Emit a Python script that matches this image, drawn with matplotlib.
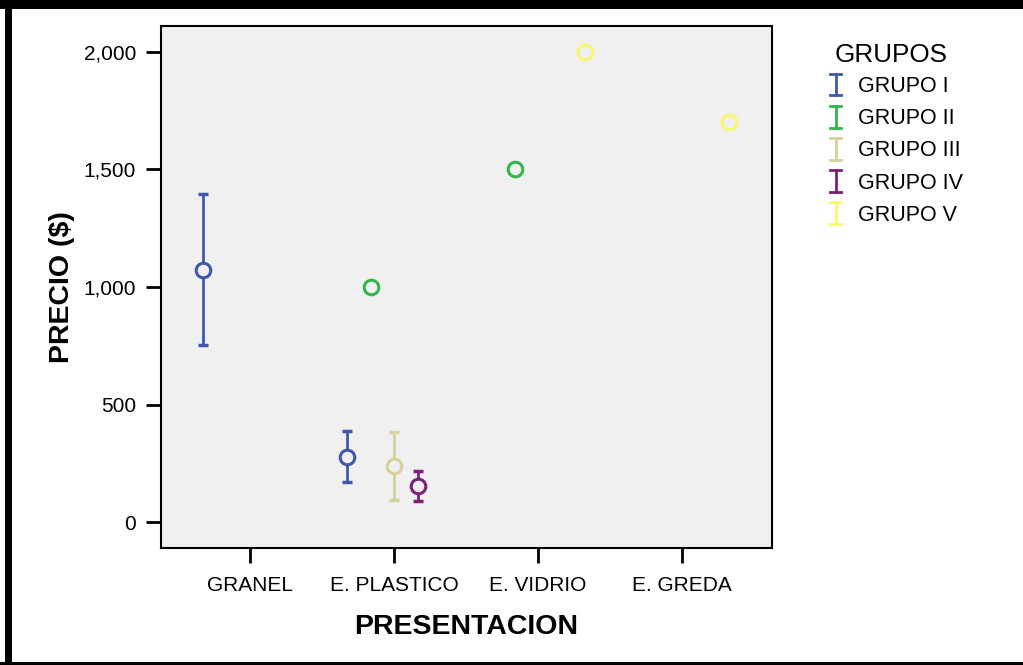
import numpy as np
import matplotlib.pyplot as plt
from matplotlib.lines import Line2D
from matplotlib.legend_handler import HandlerBase
from matplotlib.patches import Rectangle

plt.rcParams['font.family'] = ['Liberation Sans', 'DejaVu Sans']

nan = np.nan

# Precio medio e intervalo por presentacion
presentaciones = ["GRANEL", "E. PLASTICO", "E. VIDRIO", "E. GREDA"]
grupos = ["GRUPO I", "GRUPO II", "GRUPO III", "GRUPO IV", "GRUPO V"]
colores = ["#3e58ac", "#33b54a", "#d6d09c", "#7b1f78", "#f9f76e"]

media_g1 = [1072, 278, nan, nan]
inf_g1 = [752, 172, nan, nan]
sup_g1 = [1395, 388, nan, nan]

media_g2 = [nan, 1000, 1500, nan]
inf_g2 = [nan, nan, nan, nan]
sup_g2 = [nan, nan, nan, nan]

media_g3 = [nan, 240, nan, nan]
inf_g3 = [nan, 96, nan, nan]
sup_g3 = [nan, 384, nan, nan]

media_g4 = [nan, 153, nan, nan]
inf_g4 = [nan, 89, nan, nan]
sup_g4 = [nan, 218, nan, nan]

media_g5 = [nan, nan, 2000, 1700]
inf_g5 = [nan, nan, nan, nan]
sup_g5 = [nan, nan, nan, nan]

medias = [media_g1, media_g2, media_g3, media_g4, media_g5]
inferiores = [inf_g1, inf_g2, inf_g3, inf_g4, inf_g5]
superiores = [sup_g1, sup_g2, sup_g3, sup_g4, sup_g5]


class HandlerBarra(HandlerBase):
    # barra de error vertical con topes, sin marcador
    def create_artists(self, legend, orig_handle, xdescent, ydescent,
                       width, height, fontsize, trans):
        c = orig_handle.get_color()
        cap = 4.0
        cx = cap - xdescent
        y0 = -ydescent - 0.22 * height
        y1 = -ydescent + 1.22 * height
        lw = 2.0
        arts = [
            Line2D([cx, cx], [y0, y1], color=c, lw=lw),
            Line2D([cx - cap, cx + cap], [y0, y0], color=c, lw=lw),
            Line2D([cx - cap, cx + cap], [y1, y1], color=c, lw=lw),
        ]
        for a in arts:
            a.set_transform(trans)
        return arts


fig = plt.figure(figsize=(10.23, 6.65), dpi=100)
ax = fig.add_axes([0.1574, 0.1759, 0.5973, 0.785])
ax.set_facecolor("#f0f0f0")

x = np.arange(len(presentaciones))
desp = np.linspace(-0.326, 0.326, len(grupos))

for i in range(len(grupos)):
    m = np.array(medias[i], dtype=float)
    lo = np.array(inferiores[i], dtype=float)
    hi = np.array(superiores[i], dtype=float)
    xs = x + desp[i]
    ok = ~np.isnan(lo)
    if ok.any():
        ax.errorbar(xs[ok], m[ok], yerr=[m[ok] - lo[ok], hi[ok] - m[ok]],
                    fmt='none', ecolor=colores[i], elinewidth=2,
                    capsize=3.5, capthick=2.5, zorder=2)
    ax.plot(xs, m, 'o', mfc='#f0f0f0', mec=colores[i], mew=2.2,
            ms=10.5, ls='none', zorder=3)

ax.set_xlim(-0.618, 3.625)
ax.set_ylim(-110, 2110)
ax.set_xticks(x)
ax.set_xticklabels(presentaciones)
ax.set_yticks([0, 500, 1000, 1500, 2000])
ax.set_yticklabels(["0", "500", "1,000", "1,500", "2,000"])
ax.tick_params(axis='both', length=11, width=2, labelsize=15, pad=7)
ax.tick_params(axis='x', pad=9)
for s in ax.spines.values():
    s.set_linewidth(1.5)

ax.set_xlabel("PRESENTACION", fontsize=20.5, fontweight='bold', labelpad=14)
ax.set_ylabel("PRECIO ($)", fontsize=20.5, fontweight='bold', labelpad=6)

# leyenda: titulo aparte y entradas con barra de error
fig.text(835 / 1023, 1 - 55 / 665, "GRUPOS", fontsize=18.8,
         ha='left', va='center')
handles = [Line2D([], [], color=c) for c in colores]
fig.legend(handles, grupos, loc='upper left',
           bbox_to_anchor=(830 / 1023, 1 - 76 / 665), frameon=False,
           fontsize=15.5, handler_map={Line2D: HandlerBarra()},
           borderpad=0, borderaxespad=0,
           handlelength=0.8, handletextpad=0.5, labelspacing=0.52)

# marco negro alrededor de la figura
W, H = 1023, 665
fig.add_artist(Rectangle((0, 1 - 9 / H), 1, 9 / H, transform=fig.transFigure,
                         color='black', lw=0))
fig.add_artist(Rectangle((5 / W, 0), 7 / W, 1, transform=fig.transFigure,
                         color='black', lw=0))
fig.add_artist(Rectangle((0, 0), 1, 3 / H, transform=fig.transFigure,
                         color='black', lw=0))

fig.savefig("out.png", dpi=100)
